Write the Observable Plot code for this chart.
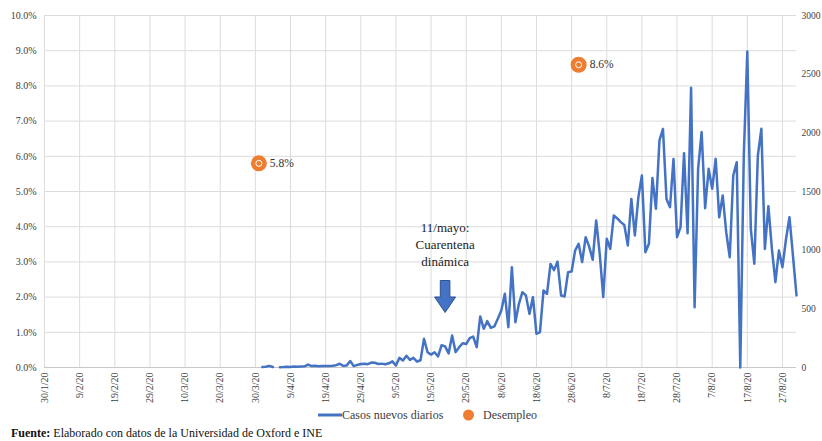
<!DOCTYPE html>
<html><head><meta charset="utf-8">
<script src="https://cdn.jsdelivr.net/npm/d3@7"></script>
<script src="https://cdn.jsdelivr.net/npm/@observablehq/plot@0.6"></script>
<style>
body{margin:0;background:#fff;font-family:"Liberation Serif","Times New Roman",serif;}
#wrap{position:relative;width:822px;height:441px;overflow:hidden;}
#chart{position:absolute;left:0;top:0;}
.leg{position:absolute;top:406px;height:18px;line-height:18px;font-size:12px;color:#404040;white-space:nowrap;}
#caption{position:absolute;left:11px;top:427px;height:13px;line-height:13px;font-size:12px;color:#111;white-space:nowrap;}
</style></head><body>
<div id="wrap">
  <div id="chart"></div>
  <svg class="leg" style="left:318px;" width="24" height="18"><line x1="0" x2="24" y1="9" y2="9" stroke="#4472C4" stroke-width="3"/></svg>
  <div class="leg" style="left:342px;" id="leg1"></div>
  <svg class="leg" style="left:462px;" width="14" height="18"><circle cx="6.5" cy="9" r="5.5" fill="#ED7D31"/></svg>
  <div class="leg" style="left:483px;" id="leg2"></div>
  <div id="caption"><b>Fuente:</b> Elaborado con datos de la Universidad de Oxford e INE</div>
</div>
<script>
// ---- data ----
const seriesNames = ["Casos nuevos diarios", "Desempleo"];
const casesStart = "2020-04-01"; // first daily value, one value per day
const cases = [
  5, 6, 14, 4, null, 3, 4, 6, 5, 8,
  6, 9, 10, 25, 12, 14, 10, 12, 13, 12,
  15, 20, 32, 14, 18, 55, 12, 22, 30, 32,
  28, 42, 40, 30, 33, 28, 36, 52, 17, 82,
  60, 100, 65, 82, 51, 62, 245, 130, 110, 130,
  94, 190, 180, 120, 273, 131, 173, 207, 200, 250,
  264, 173, 435, 330, 395, 338, 350, 415, 486, 628,
  344, 855, 386, 543, 642, 614, 457, 600, 287, 301,
  656, 628, 883, 830, 903, 614, 605, 813, 818, 997,
  1054, 898, 1111, 1030, 918, 1253, 969, 600, 1097, 1011,
  1295, 1270, 1239, 1215, 1040, 1437, 1125, 1452, 1636, 983,
  1054, 1616, 1352, 1935, 2034, 1437, 1366, 1778, 1111, 1196,
  1827, 1145, 2384, 514, 1693, 2006, 1358, 1693, 1523, 1778,
  1281, 1466, 1153, 940, 1636, 1750, 0, 1807, 2693, 1182,
  884, 1807, 2034, 1011, 1375, 1011, 727, 997, 855, 1091,
  1281, 950, 614
];
const unempDates = ["2020-03-31", "2020-06-30"];
const unempValues = [5.8, 8.6]; // percent
const xTickLabels = ["30/1/20","9/2/20","19/2/20","29/2/20","10/3/20","20/3/20","30/3/20","9/4/20","19/4/20","29/4/20","9/5/20","19/5/20","29/5/20","8/6/20","18/6/20","28/6/20","8/7/20","18/7/20","28/7/20","7/8/20","17/8/20","27/8/20"];
const xDomainEnd = "2020-08-31";
const leftTicks = [0,1,2,3,4,5,6,7,8,9,10];        // percent
const rightTicks = [0,500,1000,1500,2000,2500,3000]; // cases
const annotationText = "11/mayo:\nCuarentena\ndinámica";
const annotationDate = "2020-05-23";
const annotationTextY = 1057;  // in cases units (right axis)
const annotationArrowY = 605;

// ---- build ----
const pctToCases = p => p * 300; // 10% <-> 3000
const parseLabel = s => { const [d, m, y] = s.split("/").map(Number); return new Date(Date.UTC(2000 + y, m - 1, d)); };
const tickDates = xTickLabels.map(parseLabel);
const labelByTime = new Map(tickDates.map((d, i) => [+d, xTickLabels[i]]));
const start = new Date(casesStart + "T00:00:00Z");
const caseData = cases.map((v, i) => ({date: d3.utcDay.offset(start, i), cases: v}));
const unempData = unempDates.map((d, i) => ({date: new Date(d + "T00:00:00Z"), value: unempValues[i]}));
const annot = [{date: new Date(annotationDate + "T00:00:00Z"), y: annotationTextY, text: annotationText}];
const arrow = [{date: new Date(annotationDate + "T00:00:00Z"), y: annotationArrowY}];

const blockArrow = {draw(ctx) {
  ctx.moveTo(-4.8, -16); ctx.lineTo(4.8, -16); ctx.lineTo(4.8, 0.5); ctx.lineTo(10.5, 0.5);
  ctx.lineTo(0, 16); ctx.lineTo(-10.5, 0.5); ctx.lineTo(-4.8, 0.5); ctx.closePath();
}};

document.getElementById("leg1").textContent = seriesNames[0];
document.getElementById("leg2").textContent = seriesNames[1];

const chart = Plot.plot({
  width: 822, height: 405,
  marginLeft: 44, marginRight: 26, marginTop: 15, marginBottom: 38,
  style: {fontFamily: "'Liberation Serif', 'Times New Roman', serif", fontSize: "10px", color: "#404040", background: "#fff", overflow: "visible"},
  x: {type: "utc", domain: [tickDates[0], new Date(xDomainEnd + "T00:00:00Z")]},
  y: {domain: [0, 3000]},
  marks: [
    Plot.ruleY(leftTicks.map(pctToCases), {stroke: "#dcdcdc", strokeWidth: 1}),
    Plot.ruleX(tickDates, {stroke: "#dcdcdc", strokeWidth: 1}),
    Plot.ruleY([0], {stroke: "#c8c8c8", strokeWidth: 1}),
    Plot.axisY(leftTicks.map(pctToCases), {anchor: "left", tickSize: 0, tickPadding: 8, label: null,
      tickFormat: v => (v / 300).toFixed(1) + "%"}),
    Plot.axisY(rightTicks, {anchor: "right", tickSize: 0, tickPadding: 5, label: null, fontSize: 9.5, tickFormat: v => String(v)}),
    Plot.axisX(tickDates, {anchor: "bottom", tickSize: 0, tickPadding: 5, tickRotate: -90, label: null,
      tickFormat: d => labelByTime.get(+d)}),
    Plot.lineY(caseData, {x: "date", y: "cases", stroke: "#4472C4", strokeWidth: 2.5, strokeLinejoin: "round"}),
    Plot.dot(unempData, {x: "date", y: d => pctToCases(d.value), r: 8, fill: "#ED7D31"}),
    Plot.dot(unempData, {x: "date", y: d => pctToCases(d.value), r: 3, fill: "none", stroke: "#fff", strokeWidth: 1}),
    Plot.text(unempData, {x: "date", y: d => pctToCases(d.value), text: d => d.value.toFixed(1) + "%",
      dx: 11, textAnchor: "start", fontSize: 11.5, fill: "#333"}),
    Plot.text(annot, {x: "date", y: "y", text: "text", fontSize: 13, lineHeight: 1.3, fill: "#222"}),
    Plot.dot(arrow, {x: "date", y: "y", symbol: blockArrow, fill: "#4472C4", stroke: "#2F528F", strokeWidth: 1})
  ]
});
document.getElementById("chart").appendChild(chart);
</script>
</body></html>
